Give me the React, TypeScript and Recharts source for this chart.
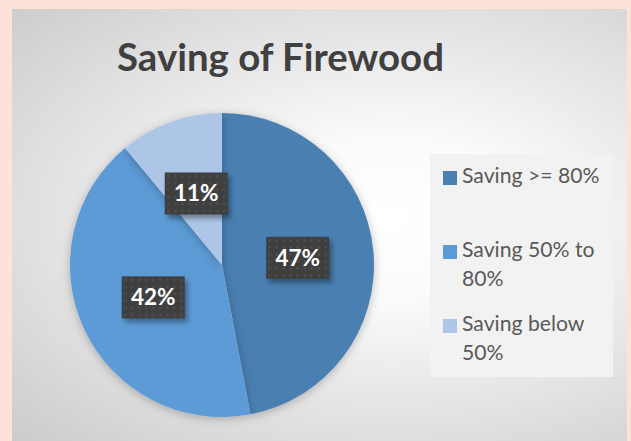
import React from "react";
import { PieChart, Pie, Cell, Legend } from "recharts";

const categories = ["Saving >= 80%", "Saving 50% to 80%", "Saving below 50%"];
const legendLines = [["Saving >= 80%"], ["Saving 50% to", "80%"], ["Saving below", "50%"]];
const values = [47, 42, 11];
const colors = ["#4a7fb1", "#5b9bd5", "#adc6e7"];

const data = categories.map((name, i) => ({ name, value: values[i] }));

const RAD = Math.PI / 180;

const renderLabel = (props: any) => {
  const { cx, cy, midAngle, outerRadius, percent, index } = props;
  const r = outerRadius * 0.5;
  const x = cx + r * Math.cos(-midAngle * RAD);
  const y = cy + r * Math.sin(-midAngle * RAD);
  const w = 63;
  const h = 42;
  const pid = `dots-${index}`;
  const fid = `shadow-${index}`;
  return (
    <g key={`lbl-${index}`}>
      <defs>
        <pattern id={pid} width="7" height="7" patternUnits="userSpaceOnUse" x={x - w / 2} y={y - h / 2}>
          <rect width="7" height="7" fill="#3f3f3f" />
          <rect x="2.5" y="2.5" width="2" height="2" fill="#555555" />
        </pattern>
        <filter id={fid} x="-30%" y="-30%" width="160%" height="160%">
          <feGaussianBlur stdDeviation="2.5" />
        </filter>
      </defs>
      <rect x={x - w / 2 + 3} y={y - h / 2 + 4} width={w} height={h} fill="rgba(0,0,0,0.35)" filter={`url(#${fid})`} />
      <rect x={x - w / 2} y={y - h / 2} width={w} height={h} fill={`url(#${pid})`} />
      <text
        x={x}
        y={y + 8}
        textAnchor="middle"
        fill="#ffffff"
        fontFamily="Lato, 'Open Sans', sans-serif"
        fontWeight={700}
        fontSize={22.5}
      >
        {`${Math.round(percent * 100)}%`}
      </text>
    </g>
  );
};

const renderLegend = () => (
  <div
    style={{
      position: "relative",
      width: 183,
      height: 223,
      background: "#f2f2f2",
      fontFamily: "Lato, 'Open Sans', sans-serif",
      fontSize: 21.2,
      color: "#595959",
    }}
  >
    {legendLines.map((lines, i) => (
      <div key={i} style={{ position: "absolute", left: 0, top: 7 + i * 74, width: 183 }}>
        <div
          style={{
            position: "absolute",
            left: 13,
            top: 10,
            width: 14,
            height: 14,
            background: colors[i],
          }}
        />
        {lines.map((ln, j) => (
          <div
            key={j}
            style={{ position: "absolute", left: 32, top: j * 29, lineHeight: "29px", whiteSpace: "nowrap" }}
          >
            {ln}
          </div>
        ))}
      </div>
    ))}
  </div>
);

export default function App() {
  return (
    <div style={{ position: "absolute", left: 0, top: 0, width: 631, height: 441, background: "#fde3d7", overflow: "hidden" }}>
      <div
        style={{
          position: "absolute",
          left: 12,
          top: 9,
          width: 615,
          height: 432,
          background: "radial-gradient(ellipse at 380px 210px, #ffffff 0%, #fbfbfb 25%, #cbcbcb 100%)",
        }}
      />
      <div
        style={{
          position: "absolute",
          left: 0,
          top: 33,
          width: 561,
          textAlign: "center",
          fontFamily: "Lato, 'Open Sans', sans-serif",
          fontWeight: 700,
          fontSize: 38.4,
          lineHeight: "46px",
          color: "#404040",
        }}
      >
        Saving of Firewood
      </div>
      <div style={{ position: "absolute", left: 0, top: 0 }}>
        <PieChart width={631} height={441} margin={{ top: 0, right: 0, bottom: 0, left: 0 }}>
          <defs>
            <filter id="pieShadow" x="-20%" y="-20%" width="140%" height="140%">
              <feDropShadow dx="0" dy="2" stdDeviation="5" floodColor="#000" floodOpacity="0.25" />
            </filter>
          </defs>
          <Pie
            data={data}
            dataKey="value"
            nameKey="name"
            cx={222}
            cy={265}
            outerRadius={152}
            startAngle={90}
            endAngle={-270}
            stroke="none"
            isAnimationActive={false}
            labelLine={false}
            label={renderLabel}
            style={{ filter: "url(#pieShadow)" }}
          >
            {data.map((d, i) => (
              <Cell key={d.name} fill={colors[i]} />
            ))}
          </Pie>
          <Legend
            content={renderLegend}
            wrapperStyle={{ position: "absolute", left: 430, top: 154, width: 183, height: 223 }}
          />
        </PieChart>
      </div>
    </div>
  );
}
